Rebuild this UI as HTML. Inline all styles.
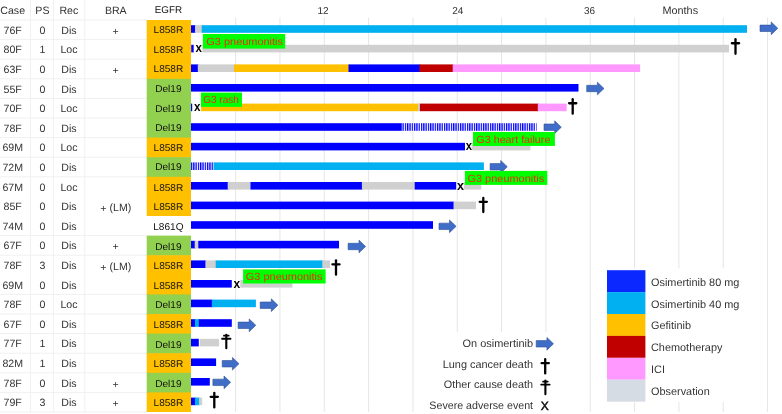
<!DOCTYPE html>
<html><head><meta charset="utf-8"><title>Swimmer plot</title>
<style>
html,body{margin:0;padding:0;background:#fff;}
body{width:782px;height:414px;overflow:hidden;}
svg{display:block;font-family:"Liberation Sans", sans-serif;will-change:transform;filter:blur(0.3px);text-rendering:geometricPrecision;}
</style></head><body>
<svg width="782" height="414" viewBox="0 0 782 414">
<defs>
<pattern id="stripe" patternUnits="userSpaceOnUse" width="2.3" height="20" x="0" y="0">
<rect x="0" y="0" width="2.3" height="20" fill="#ffffff"/>
<rect x="0" y="0" width="1.3" height="20" fill="#0000FF"/>
</pattern>
</defs>
<rect x="30.0" y="0" width="1" height="412" fill="#f0f0f0"/>
<rect x="52.9" y="0" width="1" height="412" fill="#f0f0f0"/>
<rect x="84.3" y="0" width="1" height="412" fill="#f0f0f0"/>
<rect x="0" y="19.50" width="147" height="1" fill="#f0f0f0"/>
<rect x="0" y="39.10" width="147" height="1" fill="#f0f0f0"/>
<rect x="0" y="58.70" width="147" height="1" fill="#f0f0f0"/>
<rect x="0" y="78.30" width="147" height="1" fill="#f0f0f0"/>
<rect x="0" y="97.90" width="147" height="1" fill="#f0f0f0"/>
<rect x="0" y="117.50" width="147" height="1" fill="#f0f0f0"/>
<rect x="0" y="137.10" width="147" height="1" fill="#f0f0f0"/>
<rect x="0" y="156.70" width="147" height="1" fill="#f0f0f0"/>
<rect x="0" y="176.30" width="147" height="1" fill="#f0f0f0"/>
<rect x="0" y="235.10" width="147" height="1" fill="#f0f0f0"/>
<rect x="0" y="254.70" width="147" height="1" fill="#f0f0f0"/>
<rect x="0" y="293.90" width="147" height="1" fill="#f0f0f0"/>
<rect x="0" y="313.50" width="147" height="1" fill="#f0f0f0"/>
<rect x="0" y="333.10" width="147" height="1" fill="#f0f0f0"/>
<rect x="0" y="352.70" width="147" height="1" fill="#f0f0f0"/>
<rect x="0" y="372.30" width="147" height="1" fill="#f0f0f0"/>
<rect x="0" y="391.90" width="147" height="1" fill="#f0f0f0"/>
<rect x="0" y="411.50" width="147" height="1" fill="#f0f0f0"/>
<rect x="235.10" y="17.5" width="1" height="394.5" fill="#e6e6e6"/>
<rect x="279.43" y="17.5" width="1" height="394.5" fill="#e6e6e6"/>
<rect x="323.76" y="17.5" width="1" height="394.5" fill="#e6e6e6"/>
<rect x="368.09" y="17.5" width="1" height="394.5" fill="#e6e6e6"/>
<rect x="412.42" y="17.5" width="1" height="394.5" fill="#e6e6e6"/>
<rect x="456.75" y="17.5" width="1" height="394.5" fill="#e6e6e6"/>
<rect x="501.08" y="17.5" width="1" height="394.5" fill="#e6e6e6"/>
<rect x="545.41" y="17.5" width="1" height="394.5" fill="#e6e6e6"/>
<rect x="589.74" y="17.5" width="1" height="394.5" fill="#e6e6e6"/>
<rect x="634.07" y="17.5" width="1" height="394.5" fill="#e6e6e6"/>
<rect x="678.40" y="17.5" width="1" height="394.5" fill="#e6e6e6"/>
<rect x="722.73" y="17.5" width="1" height="394.5" fill="#e6e6e6"/>
<rect x="767.06" y="17.5" width="1" height="394.5" fill="#e6e6e6"/>
<rect x="601" y="268.5" width="162" height="133.5" fill="#ffffff"/>
<rect x="420" y="332" width="160" height="82" fill="#ffffff"/>
<rect x="146.7" y="20.00" width="44.3" height="59.40" fill="#FFC000"/>
<rect x="146.7" y="78.80" width="44.3" height="59.40" fill="#92D050"/>
<rect x="146.7" y="137.60" width="44.3" height="20.20" fill="#FFC000"/>
<rect x="146.7" y="157.20" width="44.3" height="20.20" fill="#92D050"/>
<rect x="146.7" y="176.80" width="44.3" height="39.20" fill="#FFC000"/>
<rect x="146.7" y="235.60" width="44.3" height="20.20" fill="#92D050"/>
<rect x="146.7" y="255.20" width="44.3" height="39.80" fill="#FFC000"/>
<rect x="146.7" y="294.40" width="44.3" height="20.20" fill="#92D050"/>
<rect x="146.7" y="314.00" width="44.3" height="20.20" fill="#FFC000"/>
<rect x="146.7" y="333.60" width="44.3" height="20.20" fill="#92D050"/>
<rect x="146.7" y="353.20" width="44.3" height="20.20" fill="#FFC000"/>
<rect x="146.7" y="372.80" width="44.3" height="20.20" fill="#92D050"/>
<rect x="146.7" y="392.40" width="44.3" height="19.60" fill="#FFC000"/>
<text x="12.70" y="13.70" font-size="10.6" text-anchor="middle" fill="#333333">Case</text>
<text x="42.40" y="13.70" font-size="10.6" text-anchor="middle" fill="#333333">PS</text>
<text x="68.80" y="13.70" font-size="10.6" text-anchor="middle" fill="#333333">Rec</text>
<text x="115.80" y="13.70" font-size="10.6" text-anchor="middle" fill="#333333">BRA</text>
<text x="168.40" y="12.90" font-size="9.8" text-anchor="middle" fill="#111111">EGFR</text>
<text x="323.00" y="13.70" font-size="10.0" text-anchor="middle" fill="#333333">12</text>
<text x="457.80" y="13.70" font-size="10.0" text-anchor="middle" fill="#333333">24</text>
<text x="589.50" y="13.70" font-size="10.0" text-anchor="middle" fill="#333333">36</text>
<text x="680.30" y="13.70" font-size="10.85" text-anchor="middle" fill="#333333">Months</text>
<text x="12.70" y="33.70" font-size="10.6" text-anchor="middle" fill="#333333">76F</text>
<text x="42.40" y="33.70" font-size="10.6" text-anchor="middle" fill="#333333">0</text>
<text x="69.00" y="33.70" font-size="10.6" text-anchor="middle" fill="#333333">Dis</text>
<text x="115.70" y="34.70" font-size="10.6" text-anchor="middle" fill="#333333">+</text>
<text x="168.40" y="33.20" font-size="9.95" text-anchor="middle" fill="#111111" textLength="29.76" lengthAdjust="spacingAndGlyphs">L858R</text>
<text x="12.70" y="53.30" font-size="10.6" text-anchor="middle" fill="#333333">80F</text>
<text x="42.40" y="53.30" font-size="10.6" text-anchor="middle" fill="#333333">1</text>
<text x="69.00" y="53.30" font-size="10.6" text-anchor="middle" fill="#333333">Loc</text>
<text x="168.40" y="52.80" font-size="9.95" text-anchor="middle" fill="#111111" textLength="29.76" lengthAdjust="spacingAndGlyphs">L858R</text>
<text x="12.70" y="72.90" font-size="10.6" text-anchor="middle" fill="#333333">63F</text>
<text x="42.40" y="72.90" font-size="10.6" text-anchor="middle" fill="#333333">0</text>
<text x="69.00" y="72.90" font-size="10.6" text-anchor="middle" fill="#333333">Dis</text>
<text x="115.70" y="73.90" font-size="10.6" text-anchor="middle" fill="#333333">+</text>
<text x="168.40" y="72.40" font-size="9.95" text-anchor="middle" fill="#111111" textLength="29.76" lengthAdjust="spacingAndGlyphs">L858R</text>
<text x="12.70" y="92.50" font-size="10.6" text-anchor="middle" fill="#333333">55F</text>
<text x="42.40" y="92.50" font-size="10.6" text-anchor="middle" fill="#333333">0</text>
<text x="69.00" y="92.50" font-size="10.6" text-anchor="middle" fill="#333333">Dis</text>
<text x="168.40" y="92.00" font-size="9.95" text-anchor="middle" fill="#111111" textLength="26.39" lengthAdjust="spacingAndGlyphs">Del19</text>
<text x="12.70" y="112.10" font-size="10.6" text-anchor="middle" fill="#333333">70F</text>
<text x="42.40" y="112.10" font-size="10.6" text-anchor="middle" fill="#333333">0</text>
<text x="69.00" y="112.10" font-size="10.6" text-anchor="middle" fill="#333333">Loc</text>
<text x="168.40" y="111.60" font-size="9.95" text-anchor="middle" fill="#111111" textLength="26.39" lengthAdjust="spacingAndGlyphs">Del19</text>
<text x="12.70" y="131.70" font-size="10.6" text-anchor="middle" fill="#333333">78F</text>
<text x="42.40" y="131.70" font-size="10.6" text-anchor="middle" fill="#333333">0</text>
<text x="69.00" y="131.70" font-size="10.6" text-anchor="middle" fill="#333333">Dis</text>
<text x="168.40" y="131.20" font-size="9.95" text-anchor="middle" fill="#111111" textLength="26.39" lengthAdjust="spacingAndGlyphs">Del19</text>
<text x="12.70" y="151.30" font-size="10.6" text-anchor="middle" fill="#333333">69M</text>
<text x="42.40" y="151.30" font-size="10.6" text-anchor="middle" fill="#333333">0</text>
<text x="69.00" y="151.30" font-size="10.6" text-anchor="middle" fill="#333333">Loc</text>
<text x="168.40" y="150.80" font-size="9.95" text-anchor="middle" fill="#111111" textLength="29.76" lengthAdjust="spacingAndGlyphs">L858R</text>
<text x="12.70" y="170.90" font-size="10.6" text-anchor="middle" fill="#333333">72M</text>
<text x="42.40" y="170.90" font-size="10.6" text-anchor="middle" fill="#333333">0</text>
<text x="69.00" y="170.90" font-size="10.6" text-anchor="middle" fill="#333333">Dis</text>
<text x="168.40" y="170.40" font-size="9.95" text-anchor="middle" fill="#111111" textLength="26.39" lengthAdjust="spacingAndGlyphs">Del19</text>
<text x="12.70" y="190.50" font-size="10.6" text-anchor="middle" fill="#333333">67M</text>
<text x="42.40" y="190.50" font-size="10.6" text-anchor="middle" fill="#333333">0</text>
<text x="69.00" y="190.50" font-size="10.6" text-anchor="middle" fill="#333333">Loc</text>
<text x="168.40" y="190.70" font-size="9.95" text-anchor="middle" fill="#111111" textLength="29.76" lengthAdjust="spacingAndGlyphs">L858R</text>
<text x="12.70" y="210.10" font-size="10.6" text-anchor="middle" fill="#333333">85F</text>
<text x="42.40" y="210.10" font-size="10.6" text-anchor="middle" fill="#333333">0</text>
<text x="69.00" y="210.10" font-size="10.6" text-anchor="middle" fill="#333333">Dis</text>
<text x="115.8" y="211.00" font-size="10.6" text-anchor="middle" fill="#333333"><tspan dy="0.9">+</tspan><tspan dy="-0.9"> (LM)</tspan></text>
<text x="168.40" y="210.30" font-size="9.95" text-anchor="middle" fill="#111111" textLength="29.76" lengthAdjust="spacingAndGlyphs">L858R</text>
<text x="12.70" y="229.70" font-size="10.6" text-anchor="middle" fill="#333333">74M</text>
<text x="42.40" y="229.70" font-size="10.6" text-anchor="middle" fill="#333333">0</text>
<text x="69.00" y="229.70" font-size="10.6" text-anchor="middle" fill="#333333">Dis</text>
<text x="168.40" y="229.90" font-size="9.95" text-anchor="middle" fill="#111111" textLength="30.32" lengthAdjust="spacingAndGlyphs">L861Q</text>
<text x="12.70" y="249.30" font-size="10.6" text-anchor="middle" fill="#333333">67F</text>
<text x="42.40" y="249.30" font-size="10.6" text-anchor="middle" fill="#333333">0</text>
<text x="69.00" y="249.30" font-size="10.6" text-anchor="middle" fill="#333333">Dis</text>
<text x="115.70" y="250.30" font-size="10.6" text-anchor="middle" fill="#333333">+</text>
<text x="168.40" y="249.50" font-size="9.95" text-anchor="middle" fill="#111111" textLength="26.39" lengthAdjust="spacingAndGlyphs">Del19</text>
<text x="12.70" y="268.90" font-size="10.6" text-anchor="middle" fill="#333333">78F</text>
<text x="42.40" y="268.90" font-size="10.6" text-anchor="middle" fill="#333333">3</text>
<text x="69.00" y="268.90" font-size="10.6" text-anchor="middle" fill="#333333">Dis</text>
<text x="115.8" y="269.80" font-size="10.6" text-anchor="middle" fill="#333333"><tspan dy="0.9">+</tspan><tspan dy="-0.9"> (LM)</tspan></text>
<text x="168.40" y="269.10" font-size="9.95" text-anchor="middle" fill="#111111" textLength="29.76" lengthAdjust="spacingAndGlyphs">L858R</text>
<text x="12.70" y="288.50" font-size="10.6" text-anchor="middle" fill="#333333">69M</text>
<text x="42.40" y="288.50" font-size="10.6" text-anchor="middle" fill="#333333">0</text>
<text x="69.00" y="288.50" font-size="10.6" text-anchor="middle" fill="#333333">Dis</text>
<text x="168.40" y="288.70" font-size="9.95" text-anchor="middle" fill="#111111" textLength="29.76" lengthAdjust="spacingAndGlyphs">L858R</text>
<text x="12.70" y="308.10" font-size="10.6" text-anchor="middle" fill="#333333">78F</text>
<text x="42.40" y="308.10" font-size="10.6" text-anchor="middle" fill="#333333">0</text>
<text x="69.00" y="308.10" font-size="10.6" text-anchor="middle" fill="#333333">Loc</text>
<text x="168.40" y="308.30" font-size="9.95" text-anchor="middle" fill="#111111" textLength="26.39" lengthAdjust="spacingAndGlyphs">Del19</text>
<text x="12.70" y="327.70" font-size="10.6" text-anchor="middle" fill="#333333">67F</text>
<text x="42.40" y="327.70" font-size="10.6" text-anchor="middle" fill="#333333">0</text>
<text x="69.00" y="327.70" font-size="10.6" text-anchor="middle" fill="#333333">Dis</text>
<text x="168.40" y="327.90" font-size="9.95" text-anchor="middle" fill="#111111" textLength="29.76" lengthAdjust="spacingAndGlyphs">L858R</text>
<text x="12.70" y="347.30" font-size="10.6" text-anchor="middle" fill="#333333">77F</text>
<text x="42.40" y="347.30" font-size="10.6" text-anchor="middle" fill="#333333">1</text>
<text x="69.00" y="347.30" font-size="10.6" text-anchor="middle" fill="#333333">Dis</text>
<text x="168.40" y="347.50" font-size="9.95" text-anchor="middle" fill="#111111" textLength="26.39" lengthAdjust="spacingAndGlyphs">Del19</text>
<text x="12.70" y="366.90" font-size="10.6" text-anchor="middle" fill="#333333">82M</text>
<text x="42.40" y="366.90" font-size="10.6" text-anchor="middle" fill="#333333">1</text>
<text x="69.00" y="366.90" font-size="10.6" text-anchor="middle" fill="#333333">Dis</text>
<text x="168.40" y="367.10" font-size="9.95" text-anchor="middle" fill="#111111" textLength="29.76" lengthAdjust="spacingAndGlyphs">L858R</text>
<text x="12.70" y="386.50" font-size="10.6" text-anchor="middle" fill="#333333">78F</text>
<text x="42.40" y="386.50" font-size="10.6" text-anchor="middle" fill="#333333">0</text>
<text x="69.00" y="386.50" font-size="10.6" text-anchor="middle" fill="#333333">Dis</text>
<text x="115.70" y="387.50" font-size="10.6" text-anchor="middle" fill="#333333">+</text>
<text x="168.40" y="386.70" font-size="9.95" text-anchor="middle" fill="#111111" textLength="26.39" lengthAdjust="spacingAndGlyphs">Del19</text>
<text x="12.70" y="406.10" font-size="10.6" text-anchor="middle" fill="#333333">79F</text>
<text x="42.40" y="406.10" font-size="10.6" text-anchor="middle" fill="#333333">3</text>
<text x="69.00" y="406.10" font-size="10.6" text-anchor="middle" fill="#333333">Dis</text>
<text x="115.70" y="407.10" font-size="10.6" text-anchor="middle" fill="#333333">+</text>
<text x="168.40" y="406.30" font-size="9.95" text-anchor="middle" fill="#111111" textLength="29.76" lengthAdjust="spacingAndGlyphs">L858R</text>
<rect x="191.00" y="25.20" width="4.80" height="7.6" fill="#0000FF"/>
<rect x="195.00" y="25.20" width="7.50" height="7.6" fill="#D0D0D0"/>
<rect x="201.70" y="25.20" width="545.30" height="7.6" fill="#00B0F0"/>
<rect x="191.20" y="44.80" width="2.50" height="7.6" fill="#0000FF"/>
<rect x="202.40" y="44.80" width="526.60" height="7.6" fill="#D0D0D0"/>
<rect x="191.00" y="64.40" width="7.60" height="7.6" fill="#0000FF"/>
<rect x="197.80" y="64.40" width="37.10" height="7.6" fill="#D0D0D0"/>
<rect x="234.10" y="64.40" width="115.20" height="7.6" fill="#FFC000"/>
<rect x="348.50" y="64.40" width="71.70" height="7.6" fill="#0000FF"/>
<rect x="419.40" y="64.40" width="34.10" height="7.6" fill="#C00000"/>
<rect x="452.70" y="64.40" width="187.40" height="7.6" fill="#FF99FF"/>
<rect x="191.00" y="84.00" width="387.50" height="7.6" fill="#0000FF"/>
<rect x="191.00" y="103.60" width="1.20" height="7.6" fill="#0000FF"/>
<rect x="201.10" y="103.60" width="217.60" height="7.6" fill="#FFC000"/>
<rect x="417.90" y="103.60" width="2.80" height="7.6" fill="#D0D0D0"/>
<rect x="419.90" y="103.60" width="118.70" height="7.6" fill="#C00000"/>
<rect x="537.80" y="103.60" width="28.90" height="7.6" fill="#FF99FF"/>
<rect x="191.00" y="123.20" width="211.30" height="7.6" fill="#0000FF"/>
<rect x="401.50" y="123.20" width="135.10" height="7.6" fill="url(#stripe)"/>
<rect x="191.00" y="142.80" width="274.00" height="7.6" fill="#0000FF"/>
<rect x="471.60" y="142.80" width="58.80" height="7.6" fill="#D0D0D0"/>
<rect x="191.00" y="162.40" width="23.40" height="7.6" fill="url(#stripe)"/>
<rect x="213.60" y="162.40" width="270.30" height="7.6" fill="#00B0F0"/>
<rect x="191.00" y="182.00" width="37.50" height="7.6" fill="#0000FF"/>
<rect x="227.70" y="182.00" width="23.60" height="7.6" fill="#D0D0D0"/>
<rect x="250.50" y="182.00" width="112.20" height="7.6" fill="#0000FF"/>
<rect x="361.90" y="182.00" width="53.60" height="7.6" fill="#D0D0D0"/>
<rect x="414.70" y="182.00" width="41.50" height="7.6" fill="#0000FF"/>
<rect x="463.80" y="182.00" width="17.40" height="7.6" fill="#D0D0D0"/>
<rect x="191.00" y="201.60" width="263.30" height="7.6" fill="#0000FF"/>
<rect x="453.50" y="201.60" width="22.50" height="7.6" fill="#D0D0D0"/>
<rect x="191.00" y="221.20" width="242.00" height="7.6" fill="#0000FF"/>
<rect x="191.00" y="240.80" width="4.50" height="7.6" fill="#0000FF"/>
<rect x="194.70" y="240.80" width="4.40" height="7.6" fill="#D0D0D0"/>
<rect x="198.30" y="240.80" width="140.70" height="7.6" fill="#0000FF"/>
<rect x="191.00" y="260.40" width="15.20" height="7.6" fill="#0000FF"/>
<rect x="205.40" y="260.40" width="11.10" height="7.6" fill="#D0D0D0"/>
<rect x="215.70" y="260.40" width="107.40" height="7.6" fill="#00B0F0"/>
<rect x="322.30" y="260.40" width="7.70" height="7.6" fill="#D0D0D0"/>
<rect x="191.00" y="280.00" width="40.80" height="7.6" fill="#0000FF"/>
<rect x="240.30" y="280.00" width="52.10" height="7.6" fill="#D0D0D0"/>
<rect x="191.00" y="299.60" width="21.60" height="7.6" fill="#0000FF"/>
<rect x="211.80" y="299.60" width="44.10" height="7.6" fill="#00B0F0"/>
<rect x="191.00" y="319.20" width="4.80" height="7.6" fill="#0000FF"/>
<rect x="195.00" y="319.20" width="4.60" height="7.6" fill="#00B0F0"/>
<rect x="198.80" y="319.20" width="33.00" height="7.6" fill="#0000FF"/>
<rect x="191.00" y="338.80" width="7.80" height="7.6" fill="#0000FF"/>
<rect x="199.80" y="338.80" width="19.20" height="7.6" fill="#D0D0D0"/>
<rect x="191.00" y="358.40" width="25.10" height="7.6" fill="#0000FF"/>
<rect x="191.00" y="378.00" width="18.80" height="7.6" fill="#0000FF"/>
<rect x="191.00" y="397.60" width="4.80" height="7.6" fill="#0000FF"/>
<rect x="195.00" y="397.60" width="4.90" height="7.6" fill="#00B0F0"/>
<rect x="199.10" y="397.60" width="3.10" height="7.6" fill="#D0D0D0"/>
<polygon points="760.00,25.10 771.20,25.10 771.20,21.95 777.80,28.30 771.20,34.65 771.20,31.50 760.00,31.50" fill="#3F6DC8" stroke="#2D5096" stroke-width="0.6" stroke-linejoin="miter"/>
<polygon points="586.70,85.30 597.40,85.30 597.40,82.15 604.00,88.50 597.40,94.85 597.40,91.70 586.70,91.70" fill="#3F6DC8" stroke="#2D5096" stroke-width="0.6" stroke-linejoin="miter"/>
<polygon points="544.00,124.00 554.70,124.00 554.70,120.85 561.30,127.20 554.70,133.55 554.70,130.40 544.00,130.40" fill="#3F6DC8" stroke="#2D5096" stroke-width="0.6" stroke-linejoin="miter"/>
<polygon points="490.10,163.60 500.70,163.60 500.70,160.45 507.30,166.80 500.70,173.15 500.70,170.00 490.10,170.00" fill="#3F6DC8" stroke="#2D5096" stroke-width="0.6" stroke-linejoin="miter"/>
<polygon points="439.00,223.15 449.50,223.15 449.50,220.00 456.10,226.35 449.50,232.70 449.50,229.55 439.00,229.55" fill="#3F6DC8" stroke="#2D5096" stroke-width="0.6" stroke-linejoin="miter"/>
<polygon points="348.10,243.30 359.00,243.30 359.00,240.15 365.60,246.50 359.00,252.85 359.00,249.70 348.10,249.70" fill="#3F6DC8" stroke="#2D5096" stroke-width="0.6" stroke-linejoin="miter"/>
<polygon points="260.20,302.00 271.30,302.00 271.30,298.85 277.90,305.20 271.30,311.55 271.30,308.40 260.20,308.40" fill="#3F6DC8" stroke="#2D5096" stroke-width="0.6" stroke-linejoin="miter"/>
<polygon points="238.10,322.10 249.20,322.10 249.20,318.95 255.80,325.30 249.20,331.65 249.20,328.50 238.10,328.50" fill="#3F6DC8" stroke="#2D5096" stroke-width="0.6" stroke-linejoin="miter"/>
<polygon points="222.20,360.55 232.40,360.55 232.40,357.40 239.00,363.75 232.40,370.10 232.40,366.95 222.20,366.95" fill="#3F6DC8" stroke="#2D5096" stroke-width="0.6" stroke-linejoin="miter"/>
<polygon points="212.90,379.15 224.00,379.15 224.00,376.00 230.60,382.35 224.00,388.70 224.00,385.55 212.90,385.55" fill="#3F6DC8" stroke="#2D5096" stroke-width="0.6" stroke-linejoin="miter"/>
<polygon points="536.20,340.60 546.90,340.60 546.90,337.45 553.50,343.80 546.90,350.15 546.90,347.00 536.20,347.00" fill="#3F6DC8" stroke="#2D5096" stroke-width="0.6" stroke-linejoin="miter"/>
<g stroke="#000" stroke-linecap="round"><line x1="735.50" y1="39.20" x2="735.50" y2="53.80" stroke-width="2.3"/><line x1="731.90" y1="43.26" x2="739.10" y2="43.26" stroke-width="2.3"/></g>
<g stroke="#000" stroke-linecap="round"><line x1="572.70" y1="99.20" x2="572.70" y2="113.70" stroke-width="2.3"/><line x1="569.10" y1="103.23" x2="576.30" y2="103.23" stroke-width="2.3"/></g>
<g stroke="#000" stroke-linecap="round"><line x1="483.30" y1="197.90" x2="483.30" y2="212.00" stroke-width="2.3"/><line x1="479.70" y1="201.81" x2="486.90" y2="201.81" stroke-width="2.3"/></g>
<g stroke="#000" stroke-linecap="round"><line x1="336.00" y1="260.30" x2="336.00" y2="274.70" stroke-width="2.3"/><line x1="332.40" y1="264.30" x2="339.60" y2="264.30" stroke-width="2.3"/></g>
<g stroke="#000" stroke-linecap="round"><line x1="214.30" y1="392.80" x2="214.30" y2="407.40" stroke-width="2.3"/><line x1="210.70" y1="396.86" x2="217.90" y2="396.86" stroke-width="2.3"/></g>
<g stroke="#000" stroke-linecap="round"><line x1="545.20" y1="359.20" x2="545.20" y2="373.40" stroke-width="2.3"/><line x1="541.60" y1="363.14" x2="548.80" y2="363.14" stroke-width="2.3"/></g>
<g stroke="#000" stroke-linecap="round"><line x1="226.30" y1="334.70" x2="226.30" y2="348.20" stroke-width="2.1"/><line x1="223.90" y1="335.71" x2="228.70" y2="335.71" stroke-width="1.7"/><line x1="222.10" y1="338.73" x2="230.50" y2="338.73" stroke-width="1.9"/></g>
<g stroke="#000" stroke-linecap="round"><line x1="545.40" y1="380.50" x2="545.40" y2="394.20" stroke-width="2.1"/><line x1="543.00" y1="381.54" x2="547.80" y2="381.54" stroke-width="1.7"/><line x1="541.20" y1="384.60" x2="549.60" y2="384.60" stroke-width="1.9"/></g>
<text transform="translate(198.78,52.40) scale(0.870,1)" font-size="13.25" font-weight="bold" text-anchor="middle" fill="#000">x</text>
<text transform="translate(197.15,111.00) scale(0.877,1)" font-size="13.25" font-weight="bold" text-anchor="middle" fill="#000">x</text>
<text transform="translate(468.85,150.10) scale(0.849,1)" font-size="13.25" font-weight="bold" text-anchor="middle" fill="#000">x</text>
<text transform="translate(460.40,189.50) scale(0.947,1)" font-size="13.25" font-weight="bold" text-anchor="middle" fill="#000">x</text>
<text transform="translate(236.95,287.60) scale(0.905,1)" font-size="13.25" font-weight="bold" text-anchor="middle" fill="#000">x</text>
<text x="544.85" y="410.0" font-size="12" text-anchor="middle" fill="#111" stroke="#111" stroke-width="0.45">X</text>
<rect x="202.90" y="34.00" width="82.30" height="14.60" fill="#00FF00"/>
<text x="206.33" y="44.80" font-size="10.4" fill="#EE2A0C" textLength="76.68" lengthAdjust="spacingAndGlyphs">G3 pneumonitis</text>
<rect x="200.90" y="92.60" width="41.10" height="14.30" fill="#00FF00"/>
<text x="203.13" y="103.40" font-size="10.4" fill="#EE2A0C" textLength="35.68" lengthAdjust="spacingAndGlyphs">G3 rash</text>
<rect x="473.00" y="132.00" width="81.90" height="13.95" fill="#00FF00"/>
<text x="476.33" y="142.60" font-size="10.4" fill="#EE2A0C" textLength="74.08" lengthAdjust="spacingAndGlyphs">G3 heart failure</text>
<rect x="464.90" y="170.90" width="82.40" height="14.00" fill="#00FF00"/>
<text x="467.43" y="182.10" font-size="10.4" fill="#EE2A0C" textLength="76.78" lengthAdjust="spacingAndGlyphs">G3 pneumonitis</text>
<rect x="243.10" y="269.40" width="82.50" height="14.10" fill="#00FF00"/>
<text x="245.83" y="279.70" font-size="10.4" fill="#EE2A0C" textLength="76.68" lengthAdjust="spacingAndGlyphs">G3 pneumonitis</text>
<rect x="607" y="270.20" width="38.4" height="21.95" fill="#0A28FF"/>
<text x="651.00" y="285.60" font-size="10.9" text-anchor="start" fill="#333333">Osimertinib 80 mg</text>
<rect x="607" y="292.10" width="38.4" height="21.95" fill="#00B0F0"/>
<text x="651.00" y="307.50" font-size="10.9" text-anchor="start" fill="#333333">Osimertinib 40 mg</text>
<rect x="607" y="314.00" width="38.4" height="21.95" fill="#FFC000"/>
<text x="651.00" y="329.40" font-size="10.9" text-anchor="start" fill="#333333">Gefitinib</text>
<rect x="607" y="335.90" width="38.4" height="21.95" fill="#C00000"/>
<text x="651.00" y="351.30" font-size="10.9" text-anchor="start" fill="#333333">Chemotherapy</text>
<rect x="607" y="357.80" width="38.4" height="21.95" fill="#FF99FF"/>
<text x="651.00" y="373.20" font-size="10.9" text-anchor="start" fill="#333333">ICI</text>
<rect x="607" y="379.70" width="38.4" height="21.95" fill="#D6DCE4"/>
<text x="651.00" y="395.10" font-size="10.9" text-anchor="start" fill="#333333">Observation</text>
<text x="462.56" y="346.90" font-size="10.9" fill="#333333" textLength="70.48" lengthAdjust="spacingAndGlyphs">On osimertinib</text>
<text x="442.76" y="367.60" font-size="10.9" fill="#333333" textLength="90.28" lengthAdjust="spacingAndGlyphs">Lung cancer death</text>
<text x="443.76" y="388.40" font-size="10.9" fill="#333333" textLength="89.28" lengthAdjust="spacingAndGlyphs">Other cause death</text>
<text x="429.36" y="409.20" font-size="10.9" fill="#333333" textLength="103.68" lengthAdjust="spacingAndGlyphs">Severe adverse event</text>
</svg>
</body></html>
